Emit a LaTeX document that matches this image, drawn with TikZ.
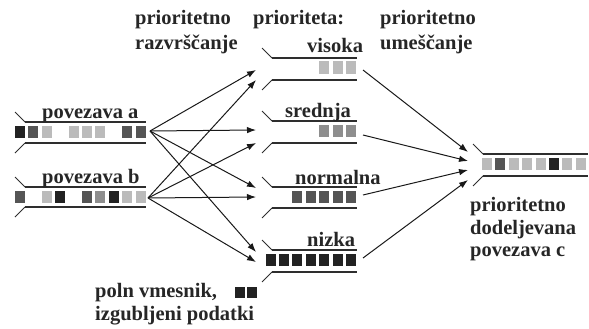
\documentclass[tikz,border=0pt]{standalone}
\usepackage{fontspec}
\setmainfont{Liberation Serif}
\usetikzlibrary{arrows.meta}

\definecolor{qline}{HTML}{2E2E2E}
\definecolor{cellK}{HTML}{222222}
\definecolor{cellD}{HTML}{555555}
\definecolor{cellM}{HTML}{8E8E8E}
\definecolor{cellL}{HTML}{BBBBBB}

% queue outline: left x of the slant, left x of the rails, right x, y of the upper rail, rail gap
\newcommand\qframe[5]{%
  \draw[slant] (#1,#4-10) -- (#2,#4);
  \draw[rail] (#2,#4) -- (#3,#4);
  \draw[rail] (#2,#4+#5) -- (#3,#4+#5);
  \draw[slant] (#2,#4+#5) -- (#1,#4+#5+10);
}
% one packet cell: x, y of upper rail, colour
\newcommand\qcell[3]{\fill[#3] (#1,#2+3.5) rectangle ++(10,12.5);}

\begin{document}
\begin{tikzpicture}[x=1pt,y=-1pt,
  slant/.style={qline,line width=1pt},
  rail/.style={qline,line width=1.5pt},
  flow/.style={black!90,line width=1pt,-{Latex[length=9pt,width=6.5pt]}},
  lbl/.style={anchor=base west,inner sep=0pt,text=black!85,font=\fontsize{20.5}{24}\selectfont\bfseries}]
\useasboundingbox (0,0) rectangle (589,329);

% ---- input links ----
\qframe{15}{25}{146}{122}{21}
\foreach \i/\c in {0/cellK,1/cellD,2/cellL,4/cellL,5/cellL,6/cellL,8/cellD,9/cellD}
  {\qcell{15+13.4*\i}{122}{\c}}
\qframe{15}{25}{146}{187}{20}
\foreach \i/\c in {0/cellD,2/cellL,3/cellK,5/cellD,6/cellM,7/cellK,8/cellL,9/cellL}
  {\qcell{15+13.4*\i}{187}{\c}}
\node[lbl] (la) at (42,118) {povezava a};
\node[lbl] (lb) at (42,183) {povezava b};

% ---- priority queues ----
\qframe{262}{272}{357}{58}{22}
\foreach \i in {0,1,2} {\qcell{346-13.4*\i}{58}{cellL}}
\qframe{262}{272}{357}{121}{22}
\foreach \i in {0,1,2} {\qcell{346-13.4*\i}{121}{cellM}}
\qframe{262}{272}{357}{187}{21}
\foreach \i in {0,...,4} {\qcell{346-13.4*\i}{187}{cellD}}
\qframe{262}{272}{357}{250}{22}
\foreach \i in {0,...,6} {\qcell{346-13.4*\i}{250}{cellK}}
\node[lbl] (lv) at (307,53) {visoka};
\node[lbl] (ls) at (285,117) {srednja};
\node[lbl] (ln) at (295,184) {normalna};
\node[lbl] (lz) at (307,246) {nizka};

% ---- output link ----
\qframe{473}{483}{588}{154}{22}
\foreach \i/\c in {0/cellL,1/cellD,2/cellL,3/cellL,4/cellL,5/cellK,6/cellL,7/cellL}
  {\qcell{482+13.4*\i}{154}{\c}}

% ---- dropped packets ----
\fill[cellK] (235,287) rectangle ++(10,11);
\fill[cellK] (247,287) rectangle ++(10,11);

% ---- captions ----
\node[lbl] (t1a) at (135,25) {prioritetno};
\node[lbl] (t1b) at (135,49) {razvrščanje};
\node[lbl] (t2)  at (253,25) {prioriteta:};
\node[lbl] (t3a) at (380,25) {prioritetno};
\node[lbl] (t3b) at (380,49) {umeščanje};
\node[lbl] (t4a) at (470,211) {prioritetno};
\node[lbl] (t4b) at (470,234) {dodeljevana};
\node[lbl] (t4c) at (470,256) {povezava c};
\node[lbl] (t5a) at (95,297) {poln vmesnik,};
\node[lbl] (t5b) at (95,320) {izgubljeni podatki};

% ---- connection points ----
\coordinate (aout) at (150,131);
\coordinate (bout) at (148,198);
\coordinate (v1) at (256,70);  \coordinate (v2) at (256,80);
\coordinate (s1) at (256,130); \coordinate (s2) at (256,143);
\coordinate (n1) at (256,188); \coordinate (n2) at (256,197);
\coordinate (z1) at (256,252); \coordinate (z2) at (256,262);
\coordinate (vout) at (363,70);
\coordinate (sout) at (363,135);
\coordinate (nout) at (363,195);
\coordinate (zout) at (363,258);
\coordinate (c1) at (468,152);
\coordinate (c2) at (468,161);
\coordinate (c3) at (468,170);
\coordinate (c4) at (468,180);

% ---- classification arrows ----
\foreach \t in {v1,s1,n1,z1} \draw[flow] (aout) -- (\t);
\foreach \t in {v2,s2,n2,z2} \draw[flow] (bout) -- (\t);

% ---- scheduling arrows ----
\draw[flow] (vout) -- (c1);
\draw[flow] (sout) -- (c2);
\draw[flow] (nout) -- (c3);
\draw[flow] (zout) -- (c4);
\end{tikzpicture}
\end{document}
